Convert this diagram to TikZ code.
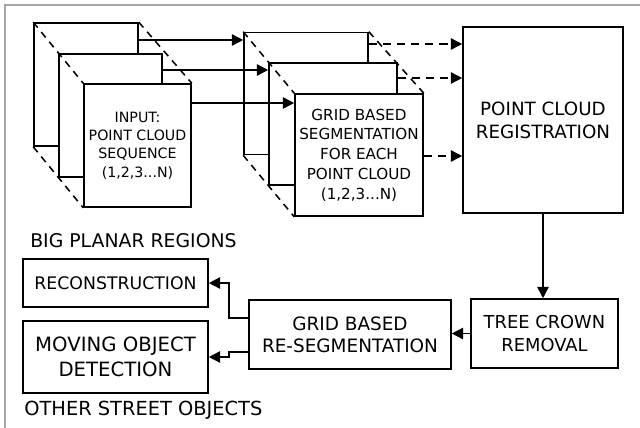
\documentclass[tikz,border=0pt]{standalone}
\usepackage{fontspec}
\setmainfont{DejaVu Sans}
\usetikzlibrary{arrows.meta}

\begin{document}
\begin{tikzpicture}[x=0.025cm, y=-0.025cm,
    box/.style={draw, fill=white, line width=1.1pt, align=center, inner sep=0pt},
    arr/.style={line width=1.1pt, -{Triangle[length=8pt, width=8pt]}},
    darr/.style={arr, dash pattern=on 6pt off 4pt},
    edge/.style={line width=1.1pt, dash pattern=on 5pt off 4pt},
    tag/.style={anchor=west, inner sep=0pt}]

    \useasboundingbox (0,0) rectangle (640,428);
    \draw[black!35, line width=1.4pt] (5,428) -- (5,5) -- (640,5);

    % input stack
    \node[box, minimum width=2.6cm, minimum height=3.075cm] (in1) at (86,84.5) {};
    \node[box, minimum width=2.575cm, minimum height=3.075cm] (in2) at (110.5,115.5) {};
    \node[box, minimum width=2.675cm, minimum height=3.075cm,
          font=\fontsize{10.1}{13}\selectfont] (in3) at (137.5,145.5)
          {INPUT:\\POINT CLOUD\\SEQUENCE\\(1,2,3...N)};
    \draw[edge] (in1.north west) -- (in3.north west);
    \draw[edge] (in1.north east) -- (in3.north east);
    \draw[edge] (in1.south west) -- (in3.south west);

    % segmentation stack
    \node[box, minimum width=3.1cm, minimum height=3.05cm] (seg1) at (306,93.5) {};
    \node[box, minimum width=3.2cm, minimum height=3.05cm] (seg2) at (333,124) {};
    \node[box, minimum width=3.2cm, minimum height=3.05cm,
          font=\fontsize{10.8}{14}\selectfont] (seg3) at (359,155)
          {GRID BASED\\SEGMENTATION\\FOR EACH\\POINT CLOUD\\(1,2,3...N)};
    \draw[edge] (seg1.north west) -- (seg3.north west);
    \draw[edge] (seg1.north east) -- (seg3.north east);
    \draw[edge] (seg1.south west) -- (seg3.south west);

    \node[box, minimum width=4cm, minimum height=4.65cm,
          font=\fontsize{13}{16.3}\selectfont] (reg) at (543,120)
          {POINT CLOUD\\REGISTRATION};

    \node[box, minimum width=3.675cm, minimum height=1.725cm,
          font=\fontsize{12.7}{15.8}\selectfont] (tree) at (544.5,333.5)
          {TREE CROWN\\REMOVAL};
    \node[box, minimum width=5.05cm, minimum height=1.725cm,
          font=\fontsize{13.1}{15.8}\selectfont] (reseg) at (350,334.5)
          {GRID BASED\\RE-SEGMENTATION};
    \node[box, minimum width=4.625cm, minimum height=1.2cm,
          font=\fontsize{12.3}{15}\selectfont] (recon) at (115.5,283)
          {RECONSTRUCTION};
    \node[box, minimum width=4.625cm, minimum height=1.8cm,
          font=\fontsize{14}{17.5}\selectfont] (moving) at (115.5,357)
          {MOVING OBJECT\\DETECTION};

    \node[tag, font=\fontsize{13.4}{16}\selectfont] (big) at (30,241) {BIG PLANAR REGIONS};
    \node[tag, font=\fontsize{13.8}{16}\selectfont] (other) at (24,410) {OTHER STREET OBJECTS};

    % connections
    \draw[arr] (in1.east |- 0,40) -- (seg1.west |- 0,40);
    \draw[arr] (in2.east |- 0,70) -- (seg2.west |- 0,70);
    \draw[arr] (in3.east |- 0,103) -- (seg3.west |- 0,103);
    \draw[darr] (seg1.east |- 0,44) -- (reg.west |- 0,44);
    \draw[darr] (seg2.east |- 0,78) -- (reg.west |- 0,78);
    \draw[darr] (seg3.east |- 0,156) -- (reg.west |- 0,156);
    \draw[arr] (reg.south) -- (reg.south |- tree.north);
    \draw[arr] (tree.west) -- (tree.west -| reseg.east);
    \draw[arr] (reseg.west |- 0,318) -- (229,318) |- (recon.east);
    \draw[arr] (reseg.west |- 0,352) -- (229,352) |- (moving.east);

\end{tikzpicture}
\end{document}
